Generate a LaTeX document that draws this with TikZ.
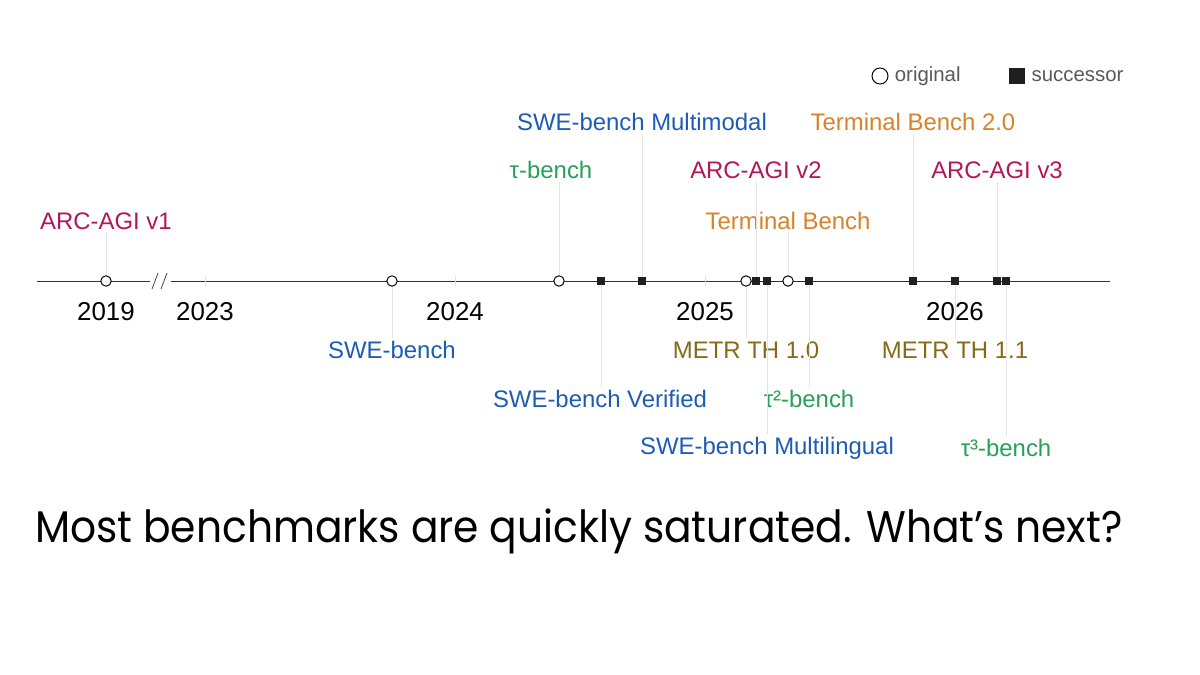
\documentclass[tikz,border=0pt]{standalone}
\usepackage{fontspec}
\setmainfont{Liberation Sans}
\newfontfamily\capfont{Poppins}
\usetikzlibrary{positioning}
\definecolor{arccol}{HTML}{B3165A}
\definecolor{swecol}{HTML}{1D5CB4}
\definecolor{taucol}{HTML}{26A05A}
\definecolor{tbcol}{HTML}{D98229}
\definecolor{metrcol}{HTML}{86691A}
\definecolor{leadcol}{HTML}{E4E4E4}

\begin{document}
\begin{tikzpicture}[x=0.025cm,y=-0.025cm,
	orig/.style={circle,draw=black,fill=white,line width=0.7pt,inner sep=0pt,minimum size=0.26cm},
	succ/.style={rectangle,fill=black!88,inner sep=0pt,minimum size=0.2cm},
	lead/.style={draw=leadcol,line width=0.5pt},
	lbl/.style={font=\fontsize{17}{19}\selectfont,inner sep=2pt},
	yr/.style={font=\fontsize{18.4}{20}\selectfont,inner sep=0pt}]
	%%%%% START %%%%%
	
	\useasboundingbox[fill=white] (0,0) rectangle (1200,675);
	
	% axis with break
	\draw[line width=0.6pt, black!80] (37,281) -- (150,281);
	\draw[line width=0.6pt, black!80] (171,281) -- (1110,281);
	\draw[line width=0.5pt, black!80] (152,289) -- (158,273);
	\draw[line width=0.5pt, black!80] (161,289) -- (167,273);
	
	% year ticks
	\draw[leadcol] (205,276) -- (205,286);
	\draw[leadcol] (455,276) -- (455,286);
	\draw[leadcol] (705,276) -- (705,286);
	\draw[leadcol] (955,276) -- (955,286);
	
	% years
	\node[yr] (y2019) at (106,312) {2019};
	\node[yr] (y2023) at (205,312) {2023};
	\node[yr] (y2024) at (455,312) {2024};
	\node[yr] (y2025) at (705,312) {2025};
	\node[yr] (y2026) at (955,312) {2026};
	
	% labels above the axis
	\node[lbl, text=arccol] (larcI) at (106,221) {ARC-AGI v1};
	\node[lbl, text=taucol] (ltau) at (551,170) {τ-bench};
	\node[lbl, text=swecol] (lsweM) at (642,122) {SWE-bench Multimodal};
	\node[lbl, text=arccol] (larcII) at (756,170) {ARC-AGI v2};
	\node[lbl, text=tbcol] (ltb) at (788,221) {Terminal Bench};
	\node[lbl, text=tbcol] (ltbII) at (913,122) {Terminal Bench 2.0};
	\node[lbl, text=arccol] (larcIII) at (997,170) {ARC-AGI v3};
	
	% labels below the axis
	\node[lbl, text=swecol] (lswe) at (392,350) {SWE-bench};
	\node[lbl, text=swecol] (lsweV) at (600,399) {SWE-bench Verified};
	\node[lbl, text=metrcol] (lmetrI) at (746,350) {METR TH 1.0};
	\node[lbl, text=swecol] (lsweML) at (767,448) {SWE-bench Multilingual};
	\node[lbl, text=taucol] (ltauII) at (809,399) {τ²-bench};
	\node[lbl, text=metrcol] (lmetrII) at (955,350) {METR TH 1.1};
	\node[lbl, text=taucol] (ltauIII) at (1006,448) {τ³-bench};
	
	% markers (positions only)
	\coordinate (arcI) at (106,281);
	\coordinate (swe) at (392,281);
	\coordinate (tau) at (559,281);
	\coordinate (sweV) at (601,281);
	\coordinate (sweM) at (642,281);
	\coordinate (metrI) at (746,281);
	\coordinate (arcII) at (756,281);
	\coordinate (sweML) at (767,281);
	\coordinate (tb) at (788,281);
	\coordinate (tauII) at (809,281);
	\coordinate (tbII) at (913,281);
	\coordinate (metrII) at (955,281);
	\coordinate (arcIII) at (997,281);
	\coordinate (tauIII) at (1006,281);
	
	% leaders
	\draw[lead] (larcI.south -| arcI) -- (arcI);
	\draw[lead] (ltau.south -| tau) -- (tau);
	\draw[lead] (lsweM.south -| sweM) -- (sweM);
	\draw[lead] (larcII.south -| arcII) -- (arcII);
	\draw[lead] (ltb.south -| tb) -- (tb);
	\draw[lead] (ltbII.south -| tbII) -- (tbII);
	\draw[lead] (larcIII.south -| arcIII) -- (arcIII);
	\draw[lead] (swe) -- (lswe.north -| swe);
	\draw[lead] (sweV) -- (lsweV.north -| sweV);
	\draw[lead] (metrI) -- (lmetrI.north -| metrI);
	\draw[lead] (sweML) -- (lsweML.north -| sweML);
	\draw[lead] (tauII) -- (ltauII.north -| tauII);
	\draw[lead] (metrII) -- (lmetrII.north -| metrII);
	\draw[lead] (tauIII) -- (ltauIII.north -| tauIII);
	
	% markers
	\node[orig] (marcI) at (arcI) {};
	\node[orig] (mswe) at (swe) {};
	\node[orig] (mtau) at (tau) {};
	\node[succ] (msweV) at (sweV) {};
	\node[succ] (msweM) at (sweM) {};
	\node[orig] (mmetrI) at (metrI) {};
	\node[succ] (marcII) at (arcII) {};
	\node[succ] (msweML) at (sweML) {};
	\node[orig] (mtb) at (tb) {};
	\node[succ] (mtauII) at (tauII) {};
	\node[succ] (mtbII) at (tbII) {};
	\node[succ] (mmetrII) at (metrII) {};
	\node[succ] (marcIII) at (arcIII) {};
	\node[succ] (mtauIII) at (tauIII) {};
	
	% legend
	\node[orig, minimum size=0.4cm] (korig) at (880,76) {};
	\node[right=1pt of korig, font=\fontsize{14.5}{16}\selectfont, text=black!65] (torig) {original};
	\node[succ, minimum size=0.4cm] (ksucc) at (1017,76) {};
	\node[right=1pt of ksucc, font=\fontsize{14.5}{16}\selectfont, text=black!65] (tsucc) {successor};
	
	% caption
	\node[anchor=base west, inner sep=0pt, font=\capfont\fontsize{31.5}{34}\selectfont] (cap) at (35,542) {\scalebox{0.92}[1]{Most benchmarks are quickly saturated. What’s next?}};
	
	%%%%% END %%%%%
\end{tikzpicture}
\end{document}
